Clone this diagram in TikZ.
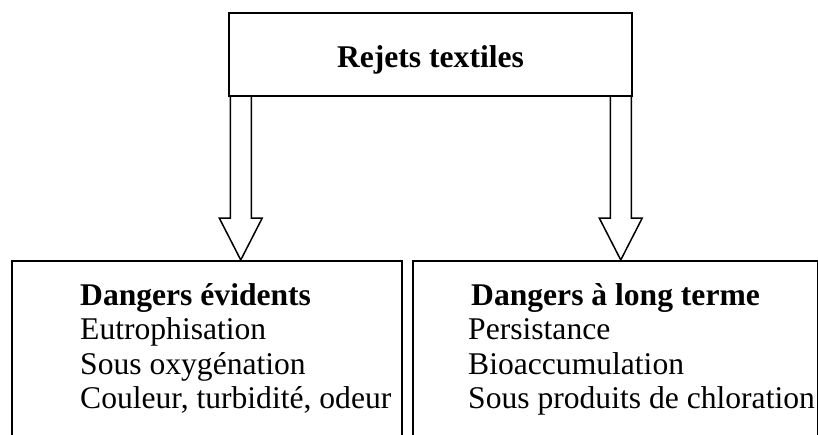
\documentclass[tikz,border=0pt]{standalone}
\usepackage{fontspec}
\setmainfont{Liberation Serif}
\usetikzlibrary{calc,positioning}

\tikzset{
    framebox/.style={draw=black, line width=1.5pt, rectangle, inner sep=0pt},
    listtext/.style={anchor=north west, inner sep=0pt, align=left,
        font=\fontsize{31.6}{34.2}\selectfont},
    hollowarrow/.style={draw=black, line width=1.5pt, line join=miter},
}

\begin{document}
\begin{tikzpicture}[x=1pt, y=-1pt]
\useasboundingbox (0,0) rectangle (818,434);

% top box
\node[
    framebox,
    minimum width=403pt,
    minimum height=83pt,
    text height=25pt,
    text depth=0pt,
    font=\fontsize{31.6}{38}\selectfont\bfseries
] (rejets) at (430.5,54.5)
{Rejets textiles};

% lower boxes (bottom edge runs off the page)
\node[framebox, anchor=north west, minimum width=390pt, minimum height=240pt]
    (evidents) at (11,260) {};
\node[framebox, anchor=north west, minimum width=405pt, minimum height=240pt]
    (longterme) at (412,260) {};

\node[listtext] (evidentstxt) at ($(evidents.north west)+(69,23.5)$)
{\textbf{Dangers évidents}\\Eutrophisation\\Sous oxygénation\\Couleur, turbidité, odeur};

\node[listtext] (longtermetxt) at ($(longterme.north west)+(56,23.5)$)
{\hspace*{3pt}\textbf{Dangers à long terme}\\Persistance\\Bioaccumulation\\Sous produits de chloration};

% hollow arrows
\coordinate (lefttop) at ($(rejets.south west)+(12.5,0)$);
\coordinate (lefttip) at (lefttop |- evidents.north);
\draw[hollowarrow] ($(lefttop)+(-10.5,0)$) -- ($(lefttip)+(-10.5,-42)$)
    -- ($(lefttip)+(-21.5,-42)$) -- (lefttip) -- ($(lefttip)+(21.5,-42)$)
    -- ($(lefttip)+(10.5,-42)$) -- ($(lefttop)+(10.5,0)$);

\coordinate (righttop) at ($(rejets.south east)+(-12,0)$);
\coordinate (righttip) at (righttop |- longterme.north);
\draw[hollowarrow] ($(righttop)+(-10.5,0)$) -- ($(righttip)+(-10.5,-42)$)
    -- ($(righttip)+(-21.5,-42)$) -- (righttip) -- ($(righttip)+(21.5,-42)$)
    -- ($(righttip)+(10.5,-42)$) -- ($(righttop)+(10.5,0)$);

\end{tikzpicture}
\end{document}
